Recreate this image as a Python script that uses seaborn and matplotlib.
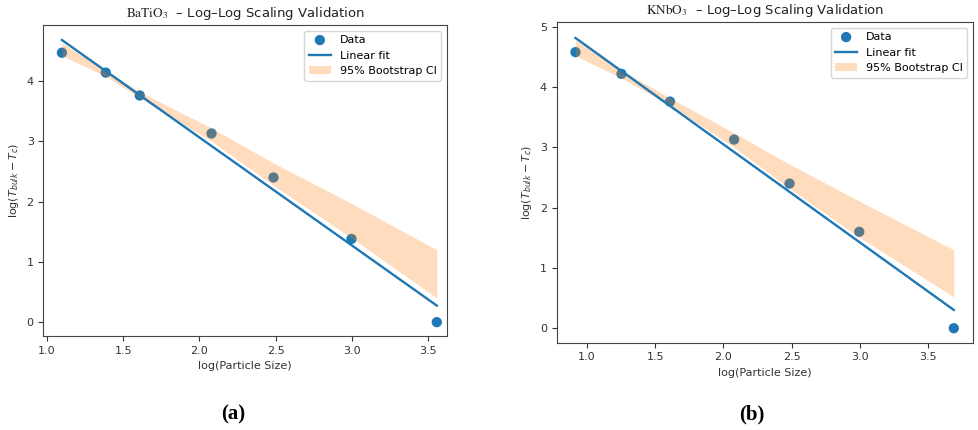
import numpy as np
import pandas as pd
import matplotlib
matplotlib.use("Agg")
import matplotlib.pyplot as plt
import seaborn as sns

# ---- data ----
bt_x = [1.099, 1.386, 1.609, 2.079, 2.485, 2.996, 3.555]
bt_y = [4.47, 4.14, 3.76, 3.13, 2.40, 1.38, 0.00]
bt_ci_hi = [4.63, 4.18, 3.82, 3.22, 2.64, 1.97, 1.20]
bt_ci_lo = [4.42, 4.08, 3.72, 3.00, 2.27, 1.40, 0.40]

kn_x = [0.916, 1.253, 1.609, 2.079, 2.485, 2.996, 3.689]
kn_y = [4.58, 4.22, 3.76, 3.13, 2.40, 1.60, 0.00]
kn_ci_hi = [4.78, 4.28, 3.82, 3.24, 2.72, 2.11, 1.30]
kn_ci_lo = [4.52, 4.15, 3.70, 3.00, 2.32, 1.51, 0.52]

titles = [r"$\mathrm{BaTiO_3}$  – Log–Log Scaling Validation",
          r"$\mathrm{KNbO_3}$  – Log–Log Scaling Validation"]
panel_labels = ["(a)", "(b)"]

fig = plt.figure(figsize=(9.79, 4.30), dpi=100)
ax1 = fig.add_axes([0.0444, 0.2186, 0.4119, 0.7233])
ax2 = fig.add_axes([0.5686, 0.2030, 0.4253, 0.7458])

panels = [
    (ax1, bt_x, bt_y, bt_ci_lo, bt_ci_hi, (0.978, 3.62), (-0.23, 4.93), [1.0, 1.5, 2.0, 2.5, 3.0, 3.5], [0, 1, 2, 3, 4]),
    (ax2, kn_x, kn_y, kn_ci_lo, kn_ci_hi, (0.778, 3.83), (-0.24, 5.08), [1.0, 1.5, 2.0, 2.5, 3.0, 3.5], [0, 1, 2, 3, 4, 5]),
]

for i, (ax, x, y, lo, hi, xl, yl, xt, yt) in enumerate(panels):
    df = pd.DataFrame({"x": x, "y": y, "lo": lo, "hi": hi})
    sns.scatterplot(data=df, x="x", y="y", ax=ax, s=55, color="#1f77b4",
                    edgecolor="none", label="Data", zorder=1)
    slope, intercept = np.polyfit(df["x"], df["y"], 1)
    fit = pd.DataFrame({"x": df["x"], "y": intercept + slope * df["x"]})
    sns.lineplot(data=fit, x="x", y="y", ax=ax, color="#1f77b4", lw=1.7,
                 label="Linear fit", zorder=2)
    ax.fill_between(df["x"], df["lo"], df["hi"], color="#ff7f0e", alpha=0.27,
                    lw=0, label="95% Bootstrap CI", zorder=1)
    ax.set_xlim(*xl)
    ax.set_ylim(*yl)
    ax.set_xticks(xt)
    ax.set_yticks(yt)
    ax.tick_params(labelsize=8, colors="#333333", length=3.5)
    for sp in ax.spines.values():
        sp.set_color("#444444")
    ax.set_xlabel("log(Particle Size)", fontsize=8, color="#333333")
    ax.set_ylabel(r"log($T_{bulk} - T_c$)", fontsize=8, color="#333333")
    ax.set_title(titles[i], fontsize=9.5, math_fontfamily="stix", color="#222222")
    ax.legend(loc="upper right", fontsize=8, frameon=True)

fig.text(0.238, 0.035, panel_labels[0], ha="center", va="center",
         family="Liberation Serif", fontweight="bold", fontsize=15)
fig.text(0.768, 0.035, panel_labels[1], ha="center", va="center",
         family="Liberation Serif", fontweight="bold", fontsize=15)

fig.savefig("out.png", dpi=100)
